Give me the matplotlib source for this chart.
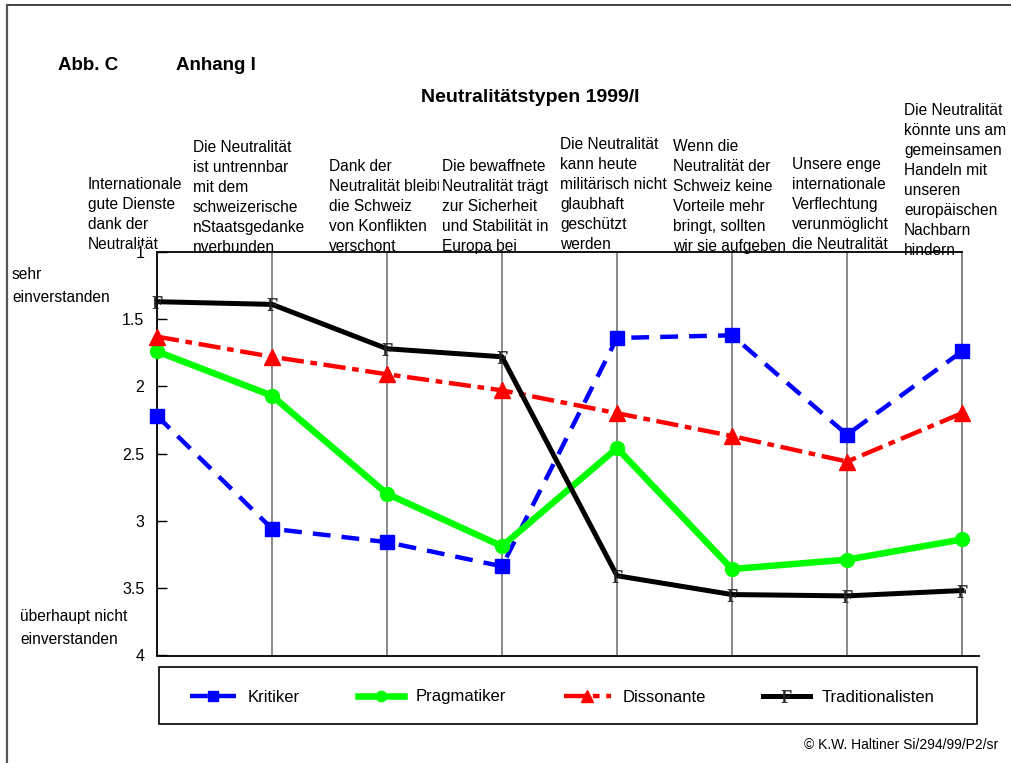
import matplotlib
matplotlib.use('Agg')
import matplotlib.pyplot as plt
from matplotlib.lines import Line2D
from matplotlib.patches import Rectangle

plt.rcParams['font.family'] = 'Liberation Sans'
plt.rcParams['mathtext.fontset'] = 'custom'
plt.rcParams['mathtext.rm'] = 'Liberation Serif'

# survey statements (x categories), mean agreement 1 = sehr einverstanden .. 4 = überhaupt nicht
statements = [
    "Internationale\ngute Dienste\ndank der\nNeutralität",
    "Die Neutralität\nist untrennbar\nmit dem\nschweizerische\nnStaatsgedanke\nnverbunden",
    "Dank der\nNeutralität bleibt\ndie Schweiz\nvon Konflikten\nverschont",
    "Die bewaffnete\nNeutralität trägt\nzur Sicherheit\nund Stabilität in\nEuropa bei",
    "Die Neutralität\nkann heute\nmilitärisch nicht\nglaubhaft\ngeschützt\nwerden",
    "Wenn die\nNeutralität der\nSchweiz keine\nVorteile mehr\nbringt, sollten\nwir sie aufgeben",
    "Unsere enge\ninternationale\nVerflechtung\nverunmöglicht\ndie Neutralität",
    "Die Neutralität\nkönnte uns am\ngemeinsamen\nHandeln mit\nunseren\neuropäischen\nNachbarn\nhindern",
]
kritiker = [2.22, 3.06, 3.16, 3.34, 1.64, 1.62, 2.36, 1.74]
pragmatiker = [1.74, 2.07, 2.80, 3.19, 2.46, 3.36, 3.29, 3.14]
dissonante = [1.63, 1.78, 1.91, 2.03, 2.20, 2.37, 2.56, 2.20]
traditionalisten = [1.37, 1.39, 1.72, 1.78, 3.41, 3.55, 3.56, 3.52]
yticks = [1, 1.5, 2, 2.5, 3, 3.5, 4]
ytick_labels = ['1', '1.5', '2', '2.5', '3', '3.5', '4']

W, H = 1012, 763
fig = plt.figure(figsize=(W / 100, H / 100), dpi=100)


def fx(px):
    return px / W


def fy(py):
    return 1 - py / H


ax = fig.add_axes([fx(157), fy(655), fx(962) - fx(157), fy(252) - fy(655)])
x = list(range(len(statements)))

ax.plot(x, kritiker, color='#0000ff', lw=3.2, ls=(0, (4, 2.5)), marker='s', ms=10,
        label='Kritiker', clip_on=False, zorder=3)
ax.plot(x, pragmatiker, color='#00ff00', lw=4.7, marker='o', ms=10,
        label='Pragmatiker', clip_on=False, zorder=4)
ax.plot(x, dissonante, color='#ff0000', lw=3.2, ls=(0, (5, 1.5, 1.5, 1.5)), marker='^', ms=11,
        label='Dissonante', clip_on=False, zorder=5)
ax.plot(x, traditionalisten, color='black', lw=3.6, marker=r'$\mathrm{F}$', ms=9,
        mfc='#222222', mec='#222222', mew=0.3, label='Traditionalisten', clip_on=False, zorder=6)

ax.set_xlim(0, 7)
ax.set_ylim(4, 1)
ax.set_xticks(x)
ax.set_xticklabels([])
ax.tick_params(axis='x', length=0)
ax.grid(axis='x', color='#808080', lw=1.3)
ax.set_yticks(yticks)
ax.set_yticklabels(ytick_labels, fontsize=11.5)
ax.tick_params(axis='y', direction='in', length=7, width=1, pad=9)
for lbl in ax.get_yticklabels():
    lbl.set_bbox(dict(facecolor='white', edgecolor='none', pad=0))

for side in ['left', 'top']:
    ax.spines[side].set_linewidth(1.3)
ax.spines['right'].set_color('#808080')
ax.spines['right'].set_linewidth(1.3)
ax.spines['bottom'].set_visible(False)
fig.add_artist(Line2D([fx(157), fx(979)], [fy(656), fy(656)], color='black', lw=1.3))

# statement headers above each gridline
label_x = [88, 193, 329, 442, 560, 673, 792, 904]
label_top = [183, 146, 165, 165, 143, 145, 163, 109]
for i, txt in enumerate(statements):
    t = ax.text(fx(label_x[i]), fy(label_top[i] - 6), txt, transform=fig.transFigure,
                ha='left', va='top', fontsize=11.2, linespacing=1.42,
                zorder=1, clip_on=False)
    if i == 3:
        t.set_bbox(dict(facecolor='white', edgecolor='none', pad=2.5))

fig.text(fx(12), fy(273 - 6), 'sehr\neinverstanden', ha='left', va='top',
         fontsize=11.2, linespacing=1.7)
fig.text(fx(20), fy(615 - 6), 'überhaupt nicht\neinverstanden', ha='left', va='top',
         fontsize=11.2, linespacing=1.7)

fig.text(fx(58), fy(65), 'Abb. C', ha='left', va='center', fontsize=13.5, fontweight='bold')
fig.text(fx(176), fy(65), 'Anhang I', ha='left', va='center', fontsize=13.5, fontweight='bold')
fig.text(fx(530), fy(97), 'Neutralitätstypen 1999/I', ha='center', va='center',
         fontsize=14, fontweight='bold')

handles, labels = ax.get_legend_handles_labels()
leg = fig.legend(handles, labels, loc='center', bbox_to_anchor=(fx(562), fy(697)), ncol=4,
                 frameon=False, fontsize=12, handlelength=2.8, handletextpad=0.7,
                 columnspacing=3.45, numpoints=1, markerscale=0.75)
# keep the F glyph full size in the key
leg.legend_handles[3].set_markersize(9)
fig.add_artist(Rectangle((fx(159), fy(724)), fx(977) - fx(159), (724 - 667) / H,
                         transform=fig.transFigure, facecolor='none',
                         edgecolor='black', lw=1.2))

fig.text(fx(998), fy(745), '© K.W. Haltiner Si/294/99/P2/sr', ha='right', va='center',
         fontsize=10)

# page frame (top and left edge)
fig.add_artist(Line2D([fx(7), 1], [fy(5), fy(5)], color='#333333', lw=1.3))
fig.add_artist(Line2D([fx(7), fx(7)], [fy(5), 0], color='#555555', lw=1.6))

fig.savefig('out.png', dpi=100)
